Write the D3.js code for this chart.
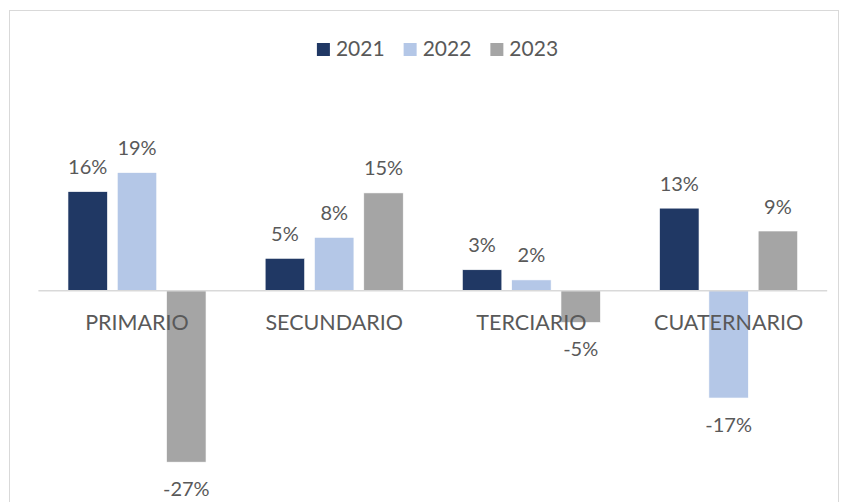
<!DOCTYPE html>
<html>
<head>
<meta charset="utf-8">
<script src="https://cdn.jsdelivr.net/npm/d3@7"></script>
<style>
  body { margin: 0; background: #fff; }
  svg { display: block; font-family: Lato, "Open Sans", sans-serif; }
  text { fill: #595959; }
</style>
</head>
<body>
<svg id="chart" width="843" height="502"></svg>
<script>
var categories = ["PRIMARIO", "SECUNDARIO", "TERCIARIO", "CUATERNARIO"];
var years = ["2021", "2022", "2023"];
var v2021 = [15.6, 5.1, 3.3, 13.0];
var v2022 = [18.6, 8.4, 1.7, -16.9];
var v2023 = [-27.0, 15.4, -5.0, 9.4];
var colors = ["#203864", "#b4c7e7", "#a5a5a5"];

var series = [v2021, v2022, v2023];
var svg = d3.select("#chart");

// chart frame
svg.append("rect")
  .attr("x", 9.5).attr("y", 10.5)
  .attr("width", 829).attr("height", 520)
  .attr("fill", "none").attr("stroke", "#d9d9d9");

var x0 = d3.scaleBand().domain(categories).range([38.4, 827.2]);
var x1 = d3.scaleBand().domain(years).range([0, x0.bandwidth()])
  .paddingInner(0.2).paddingOuter(0.6);
var y = d3.scaleLinear().domain([-30, 30]).range([481.2, 100.2]);

var data = [];
categories.forEach(function(c, i){
  years.forEach(function(yr, j){
    data.push({cat: c, year: yr, idx: j, value: series[j][i]});
  });
});

svg.append("g").selectAll("rect.bar")
  .data(data).enter()
  .append("rect").classed("bar", true)
  .attr("x", function(d){ return x0(d.cat) + x1(d.year); })
  .attr("y", function(d){ return y(Math.max(0, d.value)); })
  .attr("width", x1.bandwidth())
  .attr("height", function(d){ return Math.abs(y(d.value) - y(0)); })
  .attr("fill", function(d){ return colors[d.idx]; })
  .attr("stroke", "#fff").attr("stroke-width", 0.6);

// zero line
svg.append("line")
  .attr("x1", x0.range()[0]).attr("x2", x0.range()[1])
  .attr("y1", y(0)).attr("y2", y(0))
  .attr("stroke", "#d9d9d9").attr("stroke-width", 1.5);

// category labels
svg.append("g").selectAll("text")
  .data(categories).enter()
  .append("text")
  .attr("x", function(d){ return x0(d) + x0.bandwidth() / 2; })
  .attr("y", y(0) + 39.5)
  .attr("text-anchor", "middle")
  .attr("font-size", 21.5)
  .text(function(d){ return d; });

// data labels
svg.append("g").selectAll("text")
  .data(data).enter()
  .append("text")
  .attr("x", function(d){ return x0(d.cat) + x1(d.year) + x1.bandwidth() / 2; })
  .attr("y", function(d){
    return d.value >= 0 ? y(d.value) - 17.5 : y(d.value) + 33.5;
  })
  .attr("text-anchor", "middle")
  .attr("font-size", 20)
  .text(function(d){ return Math.round(d.value) + "%"; });

// legend
var legend = svg.append("g");
var items = legend.selectAll("g").data(years).enter().append("g");
items.append("rect")
  .attr("width", 13).attr("height", 13)
  .attr("y", -13)
  .attr("fill", function(d, i){ return colors[i]; });
items.append("text")
  .attr("x", 19).attr("y", 0)
  .attr("font-size", 21)
  .text(function(d){ return d; });
var offset = 0;
items.each(function(){
  var w = this.getBBox().width;
  d3.select(this).attr("transform", "translate(" + offset + ",0)");
  offset += w + 19;
});
var total = offset - 19;
legend.attr("transform", "translate(" + (437.5 - total / 2) + ",56)");
</script>
</body>
</html>
